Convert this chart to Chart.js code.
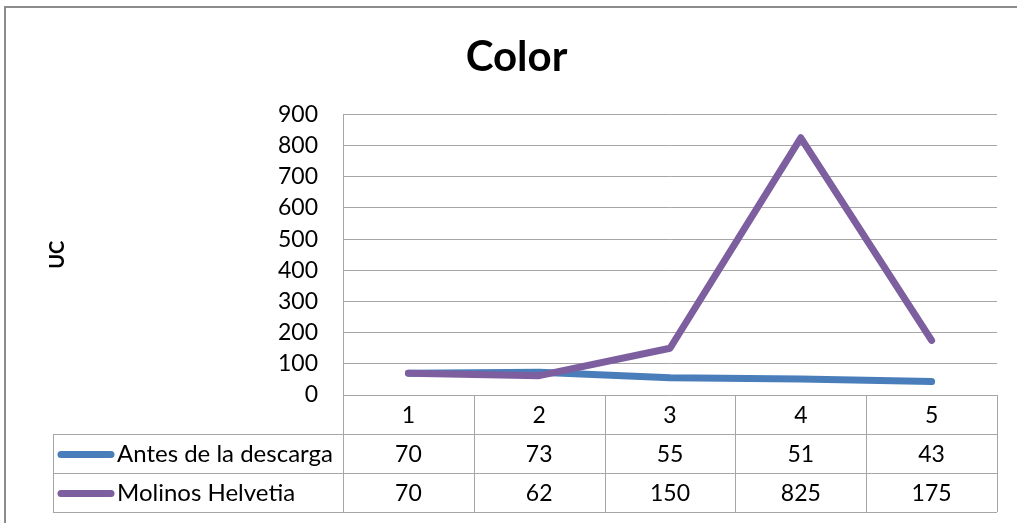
<!DOCTYPE html>
<html lang="es">
<head>
  <meta charset="UTF-8" />
  <title>Color</title>
  <script src="https://cdn.jsdelivr.net/npm/chart.js"></script>
  <style>
    html, body { margin: 0; padding: 0; background: #fff; }
    canvas { display: block; }
  </style>
</head>
<body>
  <canvas id="colorChart" width="1017" height="523"></canvas>
  <script>
    const categories = ['1', '2', '3', '4', '5'];
    const antesDescarga = [70, 73, 55, 51, 43];
    const molinosHelvetia = [70, 62, 150, 825, 175];
    const seriesNames = ['Antes de la descarga', 'Molinos Helvetia'];
    const seriesColors = ['#4a7ebb', '#7d5fa0'];

    const FONT = 'Lato, "Open Sans", sans-serif';
    const GRID = '#a6a6a6';
    const ROW_H = 39;

    // outer frame of the chart object
    const framePlugin = {
      id: 'frame',
      beforeDraw(chart) {
        const ctx = chart.ctx;
        ctx.save();
        ctx.fillStyle = '#fff';
        ctx.fillRect(0, 0, chart.width, chart.height);
        ctx.strokeStyle = '#8c8c8c';
        ctx.lineWidth = 2;
        ctx.beginPath();
        ctx.moveTo(5, chart.height);
        ctx.lineTo(5, 7);
        ctx.lineTo(chart.width, 7);
        ctx.stroke();
        ctx.restore();
      }
    };

    // data table under the x axis, with legend keys
    const dataTablePlugin = {
      id: 'dataTable',
      afterDraw(chart) {
        const ctx = chart.ctx;
        const xs = chart.scales.x;
        const area = chart.chartArea;
        const half = (xs.getPixelForValue(1) - xs.getPixelForValue(0)) / 2;
        const top = area.bottom;
        const legendLeft = 53;
        const rows = [antesDescarga, molinosHelvetia];
        const bottom = top + ROW_H * (rows.length + 1);

        ctx.save();
        ctx.strokeStyle = GRID;
        ctx.lineWidth = 1;
        ctx.beginPath();
        for (let r = 1; r <= rows.length + 1; r++) {
          const y = Math.round(top + r * ROW_H) + 0.5;
          ctx.moveTo(legendLeft, y);
          ctx.lineTo(area.right, y);
        }
        for (let i = 0; i <= categories.length; i++) {
          const x = Math.round(xs.getPixelForValue(i) - half) + 0.5;
          ctx.moveTo(x, top);
          ctx.lineTo(x, bottom);
        }
        ctx.moveTo(legendLeft + 0.5, top + ROW_H);
        ctx.lineTo(legendLeft + 0.5, bottom);
        ctx.stroke();

        ctx.fillStyle = '#000';
        ctx.font = '23px ' + FONT;
        ctx.textAlign = 'center';
        ctx.textBaseline = 'middle';
        categories.forEach((c, i) => {
          ctx.fillText(c, xs.getPixelForValue(i), top + ROW_H / 2 + 1);
        });
        rows.forEach((vals, r) => {
          const yc = top + ROW_H * (r + 1) + ROW_H / 2 + 1;
          vals.forEach((v, i) => ctx.fillText(String(v), xs.getPixelForValue(i), yc));

          ctx.strokeStyle = seriesColors[r];
          ctx.lineWidth = 7;
          ctx.lineCap = 'round';
          ctx.beginPath();
          ctx.moveTo(61, yc);
          ctx.lineTo(111, yc);
          ctx.stroke();

          ctx.textAlign = 'left';
          ctx.font = '24px ' + FONT;
          ctx.fillText(seriesNames[r], 117, yc);
          ctx.font = '23px ' + FONT;
          ctx.textAlign = 'center';
        });
        ctx.restore();
      }
    };

    new Chart(document.getElementById('colorChart'), {
      type: 'line',
      data: {
        labels: categories,
        datasets: [
          {
            label: seriesNames[0],
            data: antesDescarga,
            borderColor: seriesColors[0],
            backgroundColor: seriesColors[0],
            order: 1
          },
          {
            label: seriesNames[1],
            data: molinosHelvetia,
            borderColor: seriesColors[1],
            backgroundColor: seriesColors[1],
            order: 0
          }
        ]
      },
      options: {
        responsive: false,
        animation: false,
        layout: { padding: { left: 36, right: 20, top: 0, bottom: 0 } },
        elements: {
          line: { borderWidth: 7, tension: 0, borderCapStyle: 'round', borderJoinStyle: 'round' },
          point: { radius: 0, hoverRadius: 0 }
        },
        plugins: {
          legend: { display: false },
          tooltip: { enabled: false },
          title: {
            display: true,
            text: 'Color',
            color: '#000',
            font: { family: FONT, size: 42, weight: 'bold', lineHeight: 1.2 },
            padding: { top: 32, bottom: 32 }
          }
        },
        scales: {
          x: {
            offset: true,
            grid: { display: false, drawTicks: false },
            border: { display: false },
            ticks: { display: false },
            afterFit(scale) { scale.height = 128; }
          },
          y: {
            min: 0,
            max: 900,
            ticks: {
              stepSize: 100,
              color: '#000',
              padding: 25,
              font: { family: FONT, size: 23 }
            },
            grid: { color: GRID, drawTicks: false },
            border: { color: GRID },
            title: {
              display: true,
              text: 'UC',
              color: '#000',
              font: { family: FONT, size: 20, weight: 'bold', lineHeight: 1.2 },
              padding: { top: 10, bottom: 0 }
            },
            afterFit(scale) { scale.width = 307; }
          }
        }
      },
      plugins: [framePlugin, dataTablePlugin]
    });
  </script>
</body>
</html>
